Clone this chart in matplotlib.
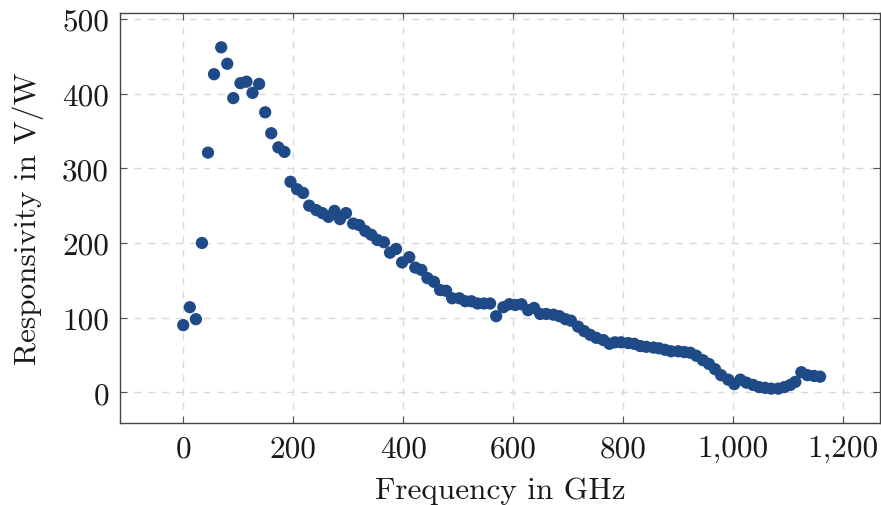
import matplotlib
matplotlib.use("Agg")
import matplotlib.pyplot as plt
from matplotlib.ticker import FixedLocator, FixedFormatter

plt.rcParams['font.family'] = 'serif'
plt.rcParams['font.serif'] = ['cmr10', 'DejaVu Serif']
plt.rcParams['mathtext.fontset'] = 'cm'
plt.rcParams['axes.unicode_minus'] = False

freq_ghz = [0, 12, 23, 34, 45, 56, 69, 80, 91, 104, 115, 126, 138, 149, 160, 173,
            184, 195, 207, 218, 229, 242, 253, 264, 275, 285, 296, 309, 320, 331,
            342, 353, 365, 376, 387, 398, 411, 422, 433, 444, 456, 467, 478, 489,
            502, 513, 524, 535, 547, 558, 569, 582, 593, 604, 615, 627, 638, 649,
            660, 673, 684, 695, 705, 718, 729, 740, 751, 764, 775, 785, 796, 809,
            820, 831, 842, 855, 865, 876, 887, 900, 911, 922, 933, 945, 956, 967,
            978, 991, 1002, 1013, 1024, 1036, 1047, 1058, 1069, 1082, 1093, 1104,
            1113, 1124, 1135, 1147, 1158]
responsivity = [90, 114, 98, 200, 321, 426, 462, 440, 394, 414, 416, 401, 413, 375,
                347, 328, 322, 282, 272, 267, 250, 244, 240, 235, 243, 232, 240, 226,
                224, 216, 211, 204, 201, 187, 192, 174, 181, 167, 164, 153, 148, 137,
                136, 126, 126, 122, 122, 119, 119, 119, 102, 114, 118, 117, 118, 110,
                113, 105, 105, 104, 102, 98, 96, 88, 82, 77, 73, 70, 65, 67, 67, 66,
                65, 62, 61, 60, 59, 57, 55, 55, 54, 53, 49, 43, 38, 31, 23, 17, 11,
                17, 13, 10, 7, 6, 5, 5, 7, 10, 14, 27, 23, 22, 21]

x_ticks = [0, 200, 400, 600, 800, 1000, 1200]
x_tick_labels = ['0', '200', '400', '600', '800', '1,000', '1,200']
y_ticks = [0, 100, 200, 300, 400, 500]
y_tick_labels = ['0', '100', '200', '300', '400', '500']

fig = plt.figure(figsize=(8.81, 5.06), dpi=100)
ax = fig.add_axes([0.1362, 0.1621, 0.8627, 0.8103])

ax.scatter(freq_ghz, responsivity, s=78, color='#1f4a88', edgecolors='none', zorder=3)

ax.set_xlim(-115, 1267)
ax.set_ylim(-41, 508)

ax.xaxis.set_major_locator(FixedLocator(x_ticks))
ax.xaxis.set_major_formatter(FixedFormatter(x_tick_labels))
ax.yaxis.set_major_locator(FixedLocator(y_ticks))
ax.yaxis.set_major_formatter(FixedFormatter(y_tick_labels))

ax.grid(True, color='#d9d9d9', linestyle=(0, (5, 5)), linewidth=1.0, zorder=0)
ax.tick_params(direction='in', length=5, width=0.8, color='#555555',
               top=True, right=True, labelsize=22.5, pad=8, labelcolor='#1a1a1a')
for sp in ax.spines.values():
    sp.set_color('#444444')
    sp.set_linewidth(1.0)

ax.set_xlabel('Frequency in GHz', fontsize=22.5, color='#1a1a1a', labelpad=10)
ax.set_ylabel('Responsivity in V/W', fontsize=22.5, color='#1a1a1a', labelpad=13)

fig.savefig('out.png', dpi=100)
